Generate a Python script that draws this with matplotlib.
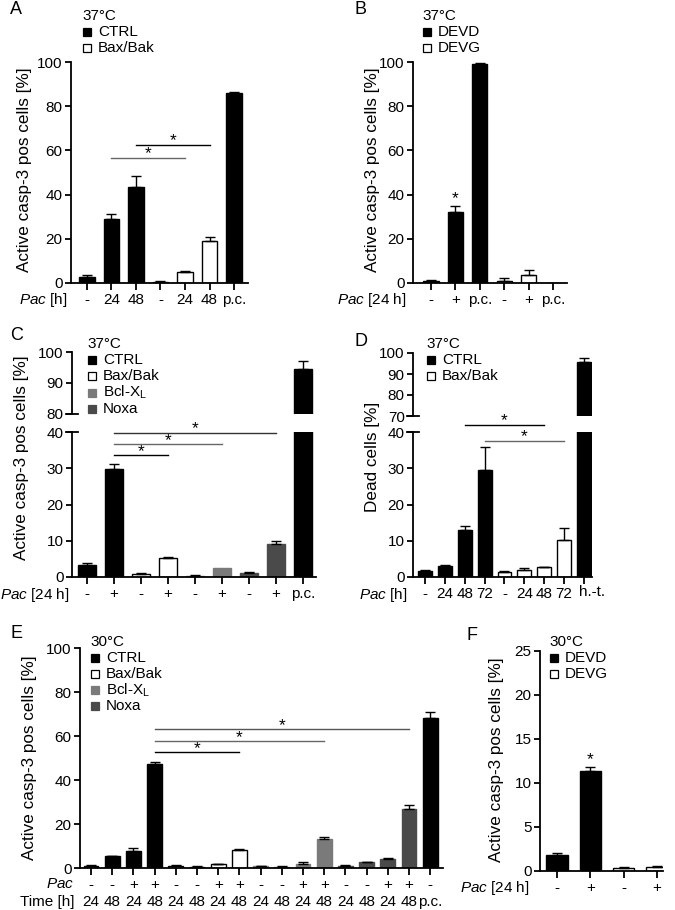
import matplotlib
matplotlib.use("Agg")
import matplotlib.pyplot as plt
from matplotlib.patches import Rectangle
from matplotlib.lines import Line2D
import numpy as np

plt.rcParams['font.family'] = ['Liberation Sans', 'DejaVu Sans']
plt.rcParams['mathtext.fontset'] = 'custom'
plt.rcParams['mathtext.rm'] = 'Liberation Sans'
plt.rcParams['mathtext.it'] = 'Liberation Sans:italic'

# ---------------- data ----------------
COLORS = {'CTRL': '#000000', 'Bax/Bak': '#ffffff', 'Bcl-XL': '#7a7a7a', 'Noxa': '#4a4a4a',
          'DEVD': '#000000', 'DEVG': '#ffffff'}

A_labels = ['-', '24', '48', '-', '24', '48', 'p.c.']
A_groups = ['CTRL', 'CTRL', 'CTRL', 'Bax/Bak', 'Bax/Bak', 'Bax/Bak', 'CTRL']
A_vals = [2.7, 29.1, 43.4, 0.6, 5.0, 19.0, 85.8]
A_err = [1.1, 2.1, 4.9, 0.4, 0.3, 1.8, 0.5]

B_labels = ['-', '+', 'p.c.', '-', '+', 'p.c.']
B_groups = ['DEVD', 'DEVD', 'DEVD', 'DEVG', 'DEVG', 'DEVG']
B_vals = [0.75, 32.1, 99.2, 1.0, 3.8, 0.0]
B_err = [0.45, 2.6, 0.3, 1.1, 2.2, 0.0]

C_labels = ['-', '+', '-', '+', '-', '+', '-', '+', 'p.c.']
C_groups = ['CTRL', 'CTRL', 'Bax/Bak', 'Bax/Bak', 'Bcl-XL', 'Bcl-XL', 'Noxa', 'Noxa', 'CTRL']
C_vals = [3.3, 29.7, 0.8, 5.2, 0.4, 2.6, 1.2, 9.2, 94.5]
C_err = [0.7, 1.5, 0.2, 0.2, 0.1, 0.0, 0.2, 0.8, 2.5]

D_labels = ['-', '24', '48', '72', '-', '24', '48', '72', 'h.-t.']
D_groups = ['CTRL', 'CTRL', 'CTRL', 'CTRL', 'Bax/Bak', 'Bax/Bak', 'Bax/Bak', 'Bax/Bak', 'CTRL']
D_vals = [1.6, 2.9, 12.9, 29.6, 1.4, 2.0, 2.7, 10.3, 95.7]
D_err = [0.3, 0.4, 1.1, 6.3, 0.25, 0.4, 0.1, 3.2, 1.9]

E_pac = ['-', '-', '+', '+'] * 4 + ['-']
E_time = ['24', '48', '24', '48'] * 4 + ['p.c.']
E_groups = ['CTRL'] * 4 + ['Bax/Bak'] * 4 + ['Bcl-XL'] * 4 + ['Noxa'] * 4 + ['CTRL']
E_vals = [0.9, 5.3, 7.9, 47.1, 1.0, 0.6, 1.8, 8.3, 0.75, 0.45, 1.7, 13.3, 1.0, 2.7, 4.1, 27.0, 68.4]
E_err = [0.3, 0.3, 1.0, 0.9, 0.2, 0.15, 0.2, 0.15, 0.25, 0.25, 1.0, 1.0, 0.2, 0.2, 0.3, 1.5, 2.3]

F_labels = ['-', '+', '-', '+']
F_groups = ['DEVD', 'DEVD', 'DEVG', 'DEVG']
F_vals = [1.8, 11.4, 0.34, 0.45]
F_err = [0.25, 0.4, 0.08, 0.08]

# significance brackets: (from index, to index, y, colour)
A_sig = [(1, 4, 56.7, '#666666'), (2, 5, 62.4, '#000000')]
C_sig = [(1, 3, 33.6, '#000000'), (1, 5, 36.6, '#666666'), (1, 7, 39.7, '#333333')]
D_sig = [(2, 6, 42.0, '#000000'), (3, 7, 37.5, '#666666')]
E_sig = [(3, 7, 52.6, '#000000'), (3, 11, 57.6, '#666666'), (3, 15, 63.0, '#555555')]

# ---------------- layout helpers ----------------
W, H = 675, 910
fig = plt.figure(figsize=(W / 100, H / 100), dpi=100)
FS = 11          # ticks / legends / row labels
FSY = 12.3       # y-axis titles
FSTAR = 12.5
LW = 1.3


def rect(l, t, r, b):
    return [l / W, 1 - b / H, (r - l) / W, (b - t) / H]


def fx(x):
    return x / W


def fy(y):
    return 1 - y / H


def style(ax, bottom=True):
    for s in ['top', 'right']:
        ax.spines[s].set_visible(False)
    ax.spines['left'].set_linewidth(LW)
    ax.spines['bottom'].set_linewidth(LW)
    ax.spines['bottom'].set_visible(bottom)
    ax.tick_params(axis='y', direction='out', length=4, width=LW, labelsize=FS, pad=2)
    ax.tick_params(axis='x', direction='out', length=5, width=LW, labelsize=FS, pad=2.5)
    ax.set_facecolor('none')


def draw_bars(ax, vals, errs, groups, width):
    x = np.arange(len(vals))
    for i in range(len(vals)):
        fc = COLORS[groups[i]]
        ec = '#000000' if fc in ('#000000', '#ffffff') else fc
        ax.bar(x[i], vals[i], width=width, color=fc, edgecolor=ec, linewidth=1.0, zorder=2)
        if errs[i] > 0:
            ax.errorbar(x[i], vals[i], yerr=[[0], [errs[i]]], fmt='none', ecolor='black',
                        elinewidth=1.0, capsize=3.5, capthick=1.0, zorder=3)
    return x


def star(ax, xv, yv, dy=-2.5):
    ax.annotate('*', xy=(xv, yv), xytext=(0, dy), textcoords='offset points',
                ha='center', va='bottom', fontsize=FSTAR, annotation_clip=False)


def sig(ax, pairs):
    for a, b, y, c in pairs:
        ax.plot([a, b], [y, y], color=c, lw=1.0, clip_on=False, zorder=4)
        star(ax, (a + b) / 2, y)


def legend(x, y0, title, items, dy=15.8):
    fig.text(fx(x - 1), fy(y0), title, fontsize=FS, ha='left', va='center')
    for k, g in enumerate(items):
        yc = y0 + dy * (k + 1)
        fc = COLORS[g]
        ec = '#000000' if fc in ('#000000', '#ffffff') else fc
        fig.add_artist(Rectangle((fx(x), fy(yc + 4)), 8 / W, 8 / H, transform=fig.transFigure,
                                 facecolor=fc, edgecolor=ec, linewidth=0.9))
        lab = 'Bcl-X$_\\mathregular{L}$' if g == 'Bcl-XL' else g
        fig.text(fx(x + 15), fy(yc), lab, fontsize=FS, ha='left', va='center')


def panel_letter(x, y, s):
    fig.text(fx(x), fy(y), s, fontsize=13, ha='left', va='center')


def ylabel(x, y, s):
    fig.text(fx(x), fy(y), s, fontsize=FSY, rotation=90, ha='center', va='center')


def rowlabel(x, y, s):
    fig.text(fx(x), fy(y), s, fontsize=FS, ha='right', va='center')


def breakmark(xpx, ypx):
    fig.add_artist(Line2D([fx(xpx - 6), fx(xpx + 6)], [fy(ypx), fy(ypx)], color='black', lw=LW))


# ---------------- Panel A ----------------
ax = fig.add_axes(rect(71, 62, 248, 283))
x = draw_bars(ax, A_vals, A_err, A_groups, 0.62)
ax.set_xlim(-0.65, 6.57)
ax.set_ylim(0, 100)
ax.set_yticks([0, 20, 40, 60, 80, 100])
ax.set_xticks(x)
ax.set_xticklabels(A_labels)
style(ax)
sig(ax, A_sig)
panel_letter(10, 9, 'A')
legend(83, 16, '37°C', ['CTRL', 'Bax/Bak'])
ylabel(25, 170, 'Active casp-3 pos cells [%]')
rowlabel(67, 300, r'$\mathit{Pac}$ [h]')

# ---------------- Panel B ----------------
ax = fig.add_axes(rect(413, 62, 567, 283))
x = draw_bars(ax, B_vals, B_err, B_groups, 0.62)
ax.set_xlim(-0.74, 5.57)
ax.set_ylim(0, 100)
ax.set_yticks([0, 20, 40, 60, 80, 100])
ax.set_xticks(x)
ax.set_xticklabels(B_labels)
style(ax)
star(ax, 1, B_vals[1] + B_err[1], dy=0)
panel_letter(355, 9, 'B')
legend(423, 16, '37°C', ['DEVD', 'DEVG'])
ylabel(372, 170, 'Active casp-3 pos cells [%]')
rowlabel(407, 300, r'$\mathit{Pac}$ [24 h]')

# ---------------- Panel C (broken axis) ----------------
axu = fig.add_axes(rect(72, 352, 316, 414))
axl = fig.add_axes(rect(72, 432, 316, 577))
for a in (axu, axl):
    draw_bars(a, C_vals, C_err, C_groups, 0.68)
    a.set_xlim(-0.56, 8.48)
axu.set_ylim(80, 100)
axu.set_yticks([80, 90, 100])
axl.set_ylim(0, 40)
axl.set_yticks([0, 10, 20, 30, 40])
style(axu, bottom=False)
axu.set_xticks([])
style(axl)
axl.set_xticks(np.arange(len(C_vals)))
axl.set_xticklabels(C_labels)
sig(axl, C_sig)
breakmark(72, 414)
breakmark(72, 432)
panel_letter(10, 335, 'C')
legend(88, 344, '37°C', ['CTRL', 'Bax/Bak', 'Bcl-XL', 'Noxa'], dy=16.2)
ylabel(22, 458, 'Active casp-3 pos cells [%]')
rowlabel(70, 595, r'$\mathit{Pac}$ [24 h]')

# ---------------- Panel D (broken axis) ----------------
axu = fig.add_axes(rect(413, 353, 592, 416))
axl = fig.add_axes(rect(413, 432, 592, 577))
for a in (axu, axl):
    draw_bars(a, D_vals, D_err, D_groups, 0.7)
    a.set_xlim(-0.6, 8.4)
axu.set_ylim(70, 100)
axu.set_yticks([70, 80, 90, 100])
axl.set_ylim(0, 40)
axl.set_yticks([0, 10, 20, 30, 40])
style(axu, bottom=False)
axu.set_xticks([])
style(axl)
axl.set_xticks(np.arange(len(D_vals)))
axl.set_xticklabels(D_labels[:-1] + [''])
axl.annotate(D_labels[-1], xy=(len(D_vals) - 1, 0), xytext=(6, -10.5), textcoords='offset points',
             ha='center', va='center', fontsize=FS, annotation_clip=False)
sig(axl, D_sig)
breakmark(413, 416)
breakmark(413, 432)
panel_letter(355, 342, 'D')
legend(427, 344, '37°C', ['CTRL', 'Bax/Bak'])
ylabel(372, 457, 'Dead cells [%]')
rowlabel(407, 595, r'$\mathit{Pac}$ [h]')

# ---------------- Panel E ----------------
ax = fig.add_axes(rect(80, 648, 443, 868))
x = draw_bars(ax, E_vals, E_err, E_groups, 0.7)
ax.set_xlim(-0.52, 16.6)
ax.set_ylim(0, 100)
ax.set_yticks([0, 20, 40, 60, 80, 100])
ax.set_xticks(x)
ax.set_xticklabels([p + '\n' + t for p, t in zip(E_pac, E_time)], linespacing=1.2)
style(ax)
sig(ax, E_sig)
panel_letter(10, 633, 'E')
legend(91, 642, '30°C', ['CTRL', 'Bax/Bak', 'Bcl-XL', 'Noxa'], dy=16.0)
ylabel(30, 758, 'Active casp-3 pos cells [%]')
rowlabel(74, 884, r'$\mathit{Pac}$')
rowlabel(75, 902, 'Time [h]')

# ---------------- Panel F ----------------
ax = fig.add_axes(rect(540, 651, 663, 871))
x = draw_bars(ax, F_vals, F_err, F_groups, 0.64)
ax.set_xlim(-0.51, 3.18)
ax.set_ylim(0, 25)
ax.set_yticks([0, 5, 10, 15, 20, 25])
ax.set_xticks(x)
ax.set_xticklabels(F_labels)
style(ax)
star(ax, 1, F_vals[1] + F_err[1], dy=0)
panel_letter(467, 635, 'F')
legend(550, 642, '30°C', ['DEVD', 'DEVG'])
ylabel(497, 760, 'Active casp-3 pos cells [%]')
rowlabel(530, 888, r'$\mathit{Pac}$ [24 h]')

fig.savefig('out.png', dpi=100)
